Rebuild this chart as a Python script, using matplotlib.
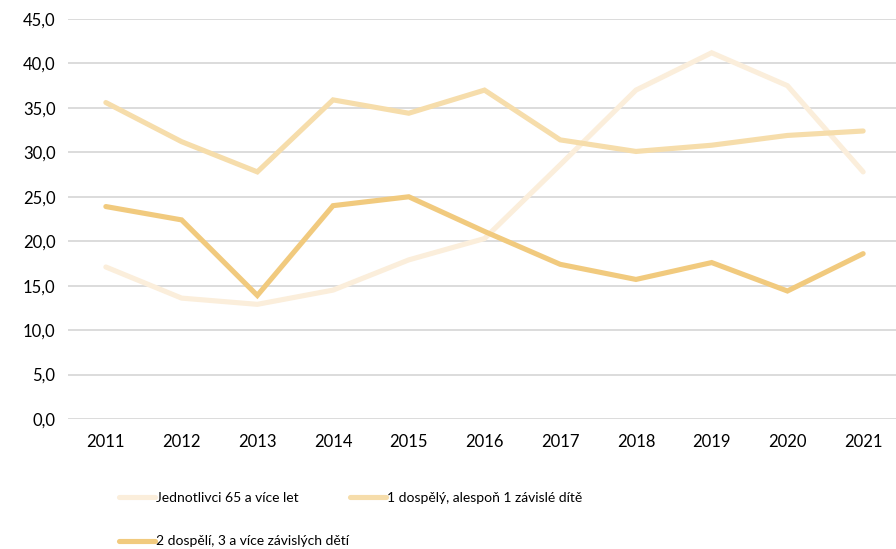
import matplotlib.pyplot as plt
import numpy as np

plt.rcParams['font.family'] = ['Lato', 'DejaVu Sans']

years = ['2011', '2012', '2013', '2014', '2015', '2016', '2017', '2018', '2019', '2020', '2021']
# Jednotlivci 65 a vice let
single_65 = [17.1, 13.6, 12.9, 14.5, 17.9, 20.3, 28.6, 37.0, 41.2, 37.5, 27.8]
# 1 dospely, alespon 1 zavisle dite
one_adult = [35.6, 31.2, 27.8, 35.9, 34.4, 37.0, 31.4, 30.1, 30.8, 31.9, 32.4]
# 2 dospeli, 3 a vice zavislych deti
two_adults = [23.9, 22.4, 13.9, 24.0, 25.0, 21.1, 17.4, 15.7, 17.6, 14.4, 18.6]

labels = ['Jednotlivci 65 a více let',
          '1 dospělý, alespoň 1 závislé dítě',
          '2 dospělí, 3 a více závislých dětí']
colors = ['#FBEEDB', '#F6DDAB', '#F1CA7E']

fig = plt.figure(figsize=(8.96, 5.49), dpi=100)
ax = fig.add_axes([68/896, 1-419/549, (901-68)/896, 400/549])

x = np.arange(len(years))
lines = []
for vals, lab, col in zip([single_65, one_adult, two_adults], labels, colors):
    ln, = ax.plot(x, vals, color=col, lw=3.7, label=lab, solid_capstyle='round', solid_joinstyle='miter')
    lines.append(ln)

ax.set_xlim(-0.5, len(years) - 0.5)
ax.set_ylim(0, 45)
ax.set_yticks(np.arange(0, 46, 5))
ax.set_yticklabels([f'{v:.1f}'.replace('.', ',') for v in np.arange(0, 46, 5)])
ax.set_xticks(x)
ax.set_xticklabels(years)
ax.grid(axis='y', color='#D9D9D9', lw=1.3)
ax.set_axisbelow(True)
for s in ax.spines.values():
    s.set_visible(False)
ax.tick_params(axis='both', length=0, labelsize=12, colors='#000000')
ax.tick_params(axis='y', pad=9)
ax.tick_params(axis='x', pad=11)

# row-wise order like the original legend
order = [0, 2, 1]
fig.legend([lines[i] for i in order], [labels[i] for i in order],
           loc='upper left', bbox_to_anchor=(106/896, 1-479/549), ncol=2,
           frameon=False, fontsize=10, handlelength=2.6, handletextpad=0.1,
           columnspacing=0.05, labelspacing=2.3)

fig.savefig('out.png', dpi=100)
